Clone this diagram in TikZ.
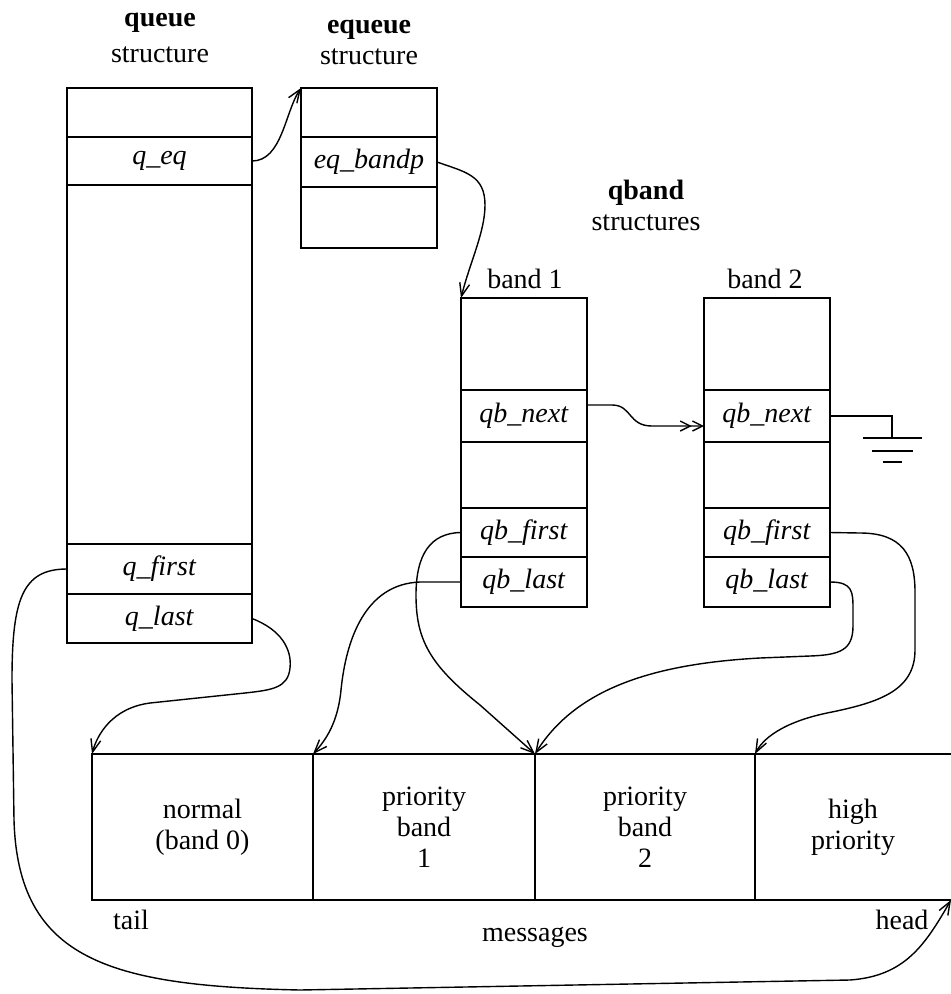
\documentclass[tikz,border=0pt]{standalone}
\usepackage{fontspec}
\setmainfont{Liberation Serif}
\usetikzlibrary{arrows.meta,calc}

\tikzset{
  field/.style={draw,line width=1.7pt,inner sep=0pt,outer sep=0pt},
  qfield/.style={field,minimum width=185pt},
  efield/.style={field,minimum width=136pt},
  bfield/.style={field,minimum width=126pt},
  cell/.style={draw,line width=1.7pt,inner sep=0pt,outer sep=0pt,align=center,minimum height=146pt},
  ptr/.style={line width=1.4pt,-{Straight Barb[length=13pt,width=10pt]}},
  wire/.style={line width=1.7pt},
}

\begin{document}
\begin{tikzpicture}[x=1pt,y=-1pt,font=\fontsize{28}{31}\selectfont]
\useasboundingbox (0,0) rectangle (951,994);

% queue structure
\node[align=center] (qtitle) at (160,38) {\textbf{queue}\\[5pt]structure};
\node[qfield,minimum height=49pt] (qtop) at (159.5,112.5) {};
\node[qfield,minimum height=48pt] (qeq) at (159.5,161) {\textit{q\_eq}};
\node[qfield,minimum height=359pt] (qmid) at (159.5,364.5) {};
\node[qfield,minimum height=50pt] (qfirst) at (159.5,569) {\textit{q\_first}};
\node[qfield,minimum height=49pt] (qlast) at (159.5,618.5) {\textit{q\_last}};

% equeue structure
\node[align=center] (etitle) at (369,42) {\textbf{equeue}\\structure};
\node[efield,minimum height=49pt] (etop) at (369,112.5) {};
\node[efield,minimum height=50pt] (eband) at (369,162) {\textit{eq\_bandp}};
\node[efield,minimum height=61pt] (ebot) at (369,217.5) {};

% qband structures
\node[align=center] (btitle) at (646,205) {\textbf{qband}\\structures};
\node (b1name) at (525,279) {band 1};
\node[bfield,minimum height=92pt] (b1top) at (524,344) {};
\node[bfield,minimum height=52pt] (b1next) at (524,416) {\textit{qb\_next}};
\node[bfield,minimum height=66pt] (b1mid) at (524,475) {};
\node[bfield,minimum height=49pt] (b1first) at (524,532.5) {\textit{qb\_first}};
\node[bfield,minimum height=50pt] (b1last) at (524,582) {\textit{qb\_last}};

\node (b2name) at (765,279) {band 2};
\node[bfield,minimum height=92pt] (b2top) at (767,344) {};
\node[bfield,minimum height=52pt] (b2next) at (767,416) {\textit{qb\_next}};
\node[bfield,minimum height=66pt] (b2mid) at (767,475) {};
\node[bfield,minimum height=49pt] (b2first) at (767,532.5) {\textit{qb\_first}};
\node[bfield,minimum height=50pt] (b2last) at (767,582) {\textit{qb\_last}};

% messages
\node[cell,minimum width=221pt] (normal) at (202.5,827) {normal\\(band 0)};
\node[cell,minimum width=222pt] (pb1) at (424,827) {priority\\band\\1};
\node[cell,minimum width=220pt] (pb2) at (645,827) {priority\\band\\2};
\node[cell,draw=none,minimum width=196pt] (high) at (853,827) {high\\priority};
\draw[wire] (high.north west) -- (high.north east);
\draw[wire] (high.south west) -- (high.south east);
\node (tail) at (131,920) {tail};
\node (msgs) at (535,937) {messages};
\node (head) at (902,920) {head};

% pointers
\draw[ptr] (qeq.east) .. controls (282,161) and (285,112) .. (etop.north west);
\draw[ptr] (eband.east) .. controls (465,172) and (485,175) .. (485,205)
  .. controls (485,232) and (470,262) .. (b1top.north west);
\draw[line width=1.4pt,-{Straight Barb[length=10pt,width=10pt] Straight Barb[length=10pt,width=10pt]}]
  ($(b1next.east)+(0,-11)$) -- (612,405) .. controls (632,405) and (628,426) .. (652,426)
  -- ($(b2next.west)+(0,10)$);
\draw[ptr] (qlast.east) .. controls (282,630) and (292,650) .. (290,668)
  .. controls (288,688) and (272,690) .. (245,693) -- (150,703)
  .. controls (112,708) and (97,735) .. (normal.north west);
\draw[ptr] (qfirst.west) .. controls (22,569) and (12,600) .. (12,680) -- (14,820)
  .. controls (18,960) and (110,986) .. (300,990) -- (850,980)
  .. controls (905,976) and (925,945) .. (high.south east);
\draw[ptr] (b1first.west) .. controls (430,533) and (416,555) .. (416,595)
  .. controls (416,640) and (430,665) .. (480,705) -- (pb1.north east);
\draw[ptr] (b1last.west) -- (420,582) .. controls (365,584) and (346,640) .. (341,690)
  .. controls (338,722) and (326,740) .. (pb1.north west);
\draw[ptr] (b2first.east) -- (860,533) .. controls (902,533) and (915,555) .. (915,592)
  -- (915,650) .. controls (915,690) and (880,702) .. (832,712)
  .. controls (790,720) and (765,735) .. (high.north west);
\draw[ptr] (b2last.east) .. controls (853,582) and (853,592) .. (853,610) -- (853,626)
  .. controls (853,650) and (840,655) .. (810,656) -- (760,658)
  .. controls (650,664) and (575,690) .. (pb2.north west);

% ground
\coordinate (gnd) at (892,438);
\draw[wire] (b2next.east) -- (gnd |- b2next.east) -- (gnd);
\draw[wire] ($(gnd)+(-29,0)$) -- ($(gnd)+(30,0)$);
\draw[wire] ($(gnd)+(-20,13)$) -- ($(gnd)+(21,13)$);
\draw[wire] ($(gnd)+(-9,24)$) -- ($(gnd)+(10,24)$);
\end{tikzpicture}
\end{document}
